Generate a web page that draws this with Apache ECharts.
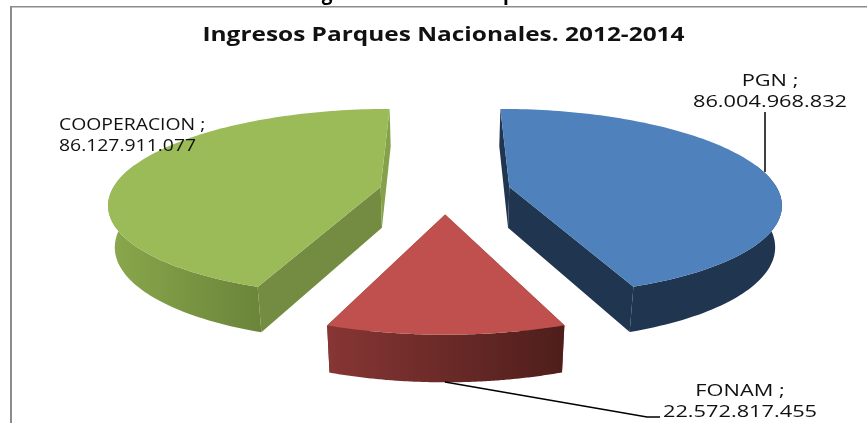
<!DOCTYPE html>
<html><head><meta charset="utf-8">
<style>html,body{margin:0;padding:0;background:#fff}#c{width:867px;height:423px}</style>
<script src="https://cdn.jsdelivr.net/npm/echarts@6/dist/echarts.min.js"></script>
</head><body><div id="c"></div>
<script>
const titleText = 'Ingresos Parques Nacionales. 2012-2014';
const categories = ['PGN', 'FONAM', 'COOPERACION'];
const values = [86004968832, 22572817455, 86127911077];
const explode = [0.245, 0.245, 0.245];
const topColors = ['#4F81BD', '#C0504D', '#9BBB59'];
const sideColors = ['#1F3550', '#7A2F2C', '#748C41'];
const backColors = ['#1F3550', '#7A2F2C', '#85A24A'];
const wallLeft = ['#1F3550', '#873634', '#8AA84C'];
const wallRight = ['#1F3550', '#4E1E1B', '#6A843A'];

// Projection of the tilted, perspective pie
const VX = 445, VY = 191, R = 269, BR = 92, K = 0.163;
function project(wx, wv) {
  const s = 1 / (1 - K * wv);
  return { x: VX + R * wx * s, y: VY + BR * wv * s, s };
}
function topPt(p) { return [p.x, p.y]; }
function botPt(p) { return [VX + (p.x - VX) * 0.98, p.y + 15 + 26 * p.s]; }

const total = values.reduce((a, b) => a + b, 0);
const fmt = v => String(v).replace(/\B(?=(\d{3})+$)/g, '.');

function renderSlice(params, api) {
  const i = api.value(0);
  let a0 = 0;
  for (let k = 0; k < i; k++) a0 += values[k] / total * Math.PI * 2;
  const a1 = a0 + values[i] / total * Math.PI * 2;
  const mid = (a0 + a1) / 2;
  const ox = Math.sin(mid) * explode[i], ov = -Math.cos(mid) * explode[i];
  const rimAt = t => project(ox + Math.sin(t), ov - Math.cos(t));
  const c = project(ox, ov);
  const rim = [];
  const N = 120;
  for (let n = 0; n <= N; n++) rim.push(a0 + (a1 - a0) * n / N);
  const rimP = rim.map(rimAt);
  const visible = rim.filter(t => -Math.cos(t) > -0.25).map(rimAt);
  const outer = visible.map(topPt).concat(visible.slice().reverse().map(botPt));
  const wall = p => [topPt(c), topPt(p), botPt(p), botPt(c)];
  const startBack = -Math.cos(a0) < 0;
  const endBack = -Math.cos(a1) < 0;
  const children = [
    { type: 'polygon', shape: { points: wall(rimP[0]) }, style: { fill: startBack ? backColors[i] : sideColors[i] } },
    { type: 'polygon', shape: { points: wall(rimP[N]) }, style: { fill: endBack ? backColors[i] : sideColors[i] } },
    { type: 'polygon', shape: { points: outer }, style: { fill: new echarts.graphic.LinearGradient(0, 0, 1, 0, [
      { offset: 0, color: wallLeft[i] }, { offset: 1, color: wallRight[i] }]) } },
    { type: 'polygon', shape: { points: [topPt(c)].concat(rimP.map(topPt)) }, style: { fill: topColors[i] } }
  ];
  return { type: 'group', children };
}

const label = (i, x, y, align, scaleX, size) => ({
  type: 'text', x, y, scaleX, z: 10,
  style: { text: categories[i] + ' ;\n' + fmt(values[i]), fill: '#111', align, verticalAlign: 'top',
           font: size + 'px "Open Sans"', lineHeight: 21 }
});
const line = (pts, w) => ({ type: 'polyline', z: 9, shape: { points: pts }, style: { stroke: '#000', lineWidth: w, fill: null } });

const chart = echarts.init(document.getElementById('c'), null, { renderer: 'canvas' });
chart.setOption({
  backgroundColor: '#fff',
  animation: false,
  series: [{ type: 'custom', coordinateSystem: 'none', renderItem: renderSlice,
    data: categories.map((c, i) => [i, values[i]]), encode: { value: 1 } }],
  graphic: [
    { type: 'rect', z: 8, shape: { x: 10, y: 6, width: 2, height: 417 }, style: { fill: '#8c8c8c' } },
    { type: 'rect', z: 8, shape: { x: 10, y: 6, width: 857, height: 1.5 }, style: { fill: '#8c8c8c' } },
    line([[765, 112], [765, 172]], 1.5),
    line([[445, 382], [647, 417], [660, 417]], 1.5),
    { type: 'text', x: 443.5, y: 26, scaleX: 1.285, z: 10, style: { text: titleText, fill: '#111', align: 'center', verticalAlign: 'top',
      font: 'bold 19px "Open Sans"' } },
    { type: 'text', x: 327, y: -15, z: 10, style: { text: 'g', fill: '#000', align: 'center', verticalAlign: 'top', font: 'bold 19px "Open Sans"' } },
    { type: 'text', x: 509, y: -15, z: 10, style: { text: 'p', fill: '#000', align: 'center', verticalAlign: 'top', font: 'bold 19px "Open Sans"' } },
    label(0, 770, 71, 'center', 1.32, 16.5),
    label(1, 740, 381, 'center', 1.32, 16.5),
    label(2, 59, 115, 'left', 1.21, 16)
  ]
});
</script></body></html>
